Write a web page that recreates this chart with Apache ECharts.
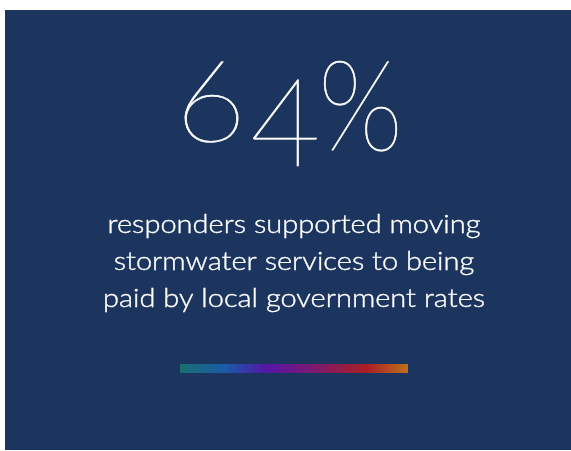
<!DOCTYPE html>
<html>
<head>
<meta charset="utf-8">
<script src="https://cdn.jsdelivr.net/npm/echarts@6/dist/echarts.min.js"></script>
<style>html,body{margin:0;padding:0;background:#ffffff;}#c{width:571px;height:451px;}</style>
</head>
<body>
<div id="c"></div>
<script>
// Data
const statValue = [64];
const statUnit = ['%'];
const captionLines = ['responders supported moving', 'stormwater services to being', 'paid by local government rates'];
const gradientColors = ['#187070', '#1a5aa8', '#5516a6', '#7a1a70', '#a81f24', '#c0701a'];
const gradientOffsets = [0, 0.2, 0.38, 0.58, 0.82, 1];

const chart = echarts.init(document.getElementById('c'), null, {renderer: 'canvas'});
const digits = String(statValue[0]).split('');
const bigFont = 'Lato';
const bigStyle = {fill: '#ffffff', fontFamily: bigFont, fontWeight: 200, fontSize: 112, verticalAlign: 'middle', align: 'left', stroke: '#ffffff', lineWidth: 0.7};
const elements = [
  {type: 'rect', shape: {x: 5, y: 10, width: 566, height: 440}, style: {fill: '#1c355e'}, silent: true}
];
// big number glyphs
elements.push({type: 'text', x: 175, y: 105, scaleX: 1.08, style: Object.assign({}, bigStyle, {text: digits[0], fontSize: 114})});
elements.push({type: 'text', x: 250, y: 127, style: Object.assign({}, bigStyle, {text: digits[1], fontSize: 122})});
elements.push({type: 'text', x: 318, y: 110, scaleX: 0.88, style: Object.assign({}, bigStyle, {text: statUnit[0], fontSize: 127})});
captionLines.forEach(function (t, i) {
  elements.push({type: 'text', x: 294, y: 225 + i * 37, scaleX: 1.16, style: {text: t, fill: '#ffffff', fontFamily: 'Lato', fontWeight: 300, fontSize: 25, align: 'center', verticalAlign: 'middle', stroke: '#ffffff', lineWidth: 0.35}});
});
elements.push({type: 'rect', shape: {x: 180, y: 364, width: 228, height: 9}, style: {
  fill: new echarts.graphic.LinearGradient(0, 0, 1, 0, gradientColors.map(function (c, i) { return {offset: gradientOffsets[i], color: c}; }))
}});
chart.setOption({
  backgroundColor: '#ffffff',
  animation: false,
  graphic: {elements: elements}
});
</script>
</body>
</html>
